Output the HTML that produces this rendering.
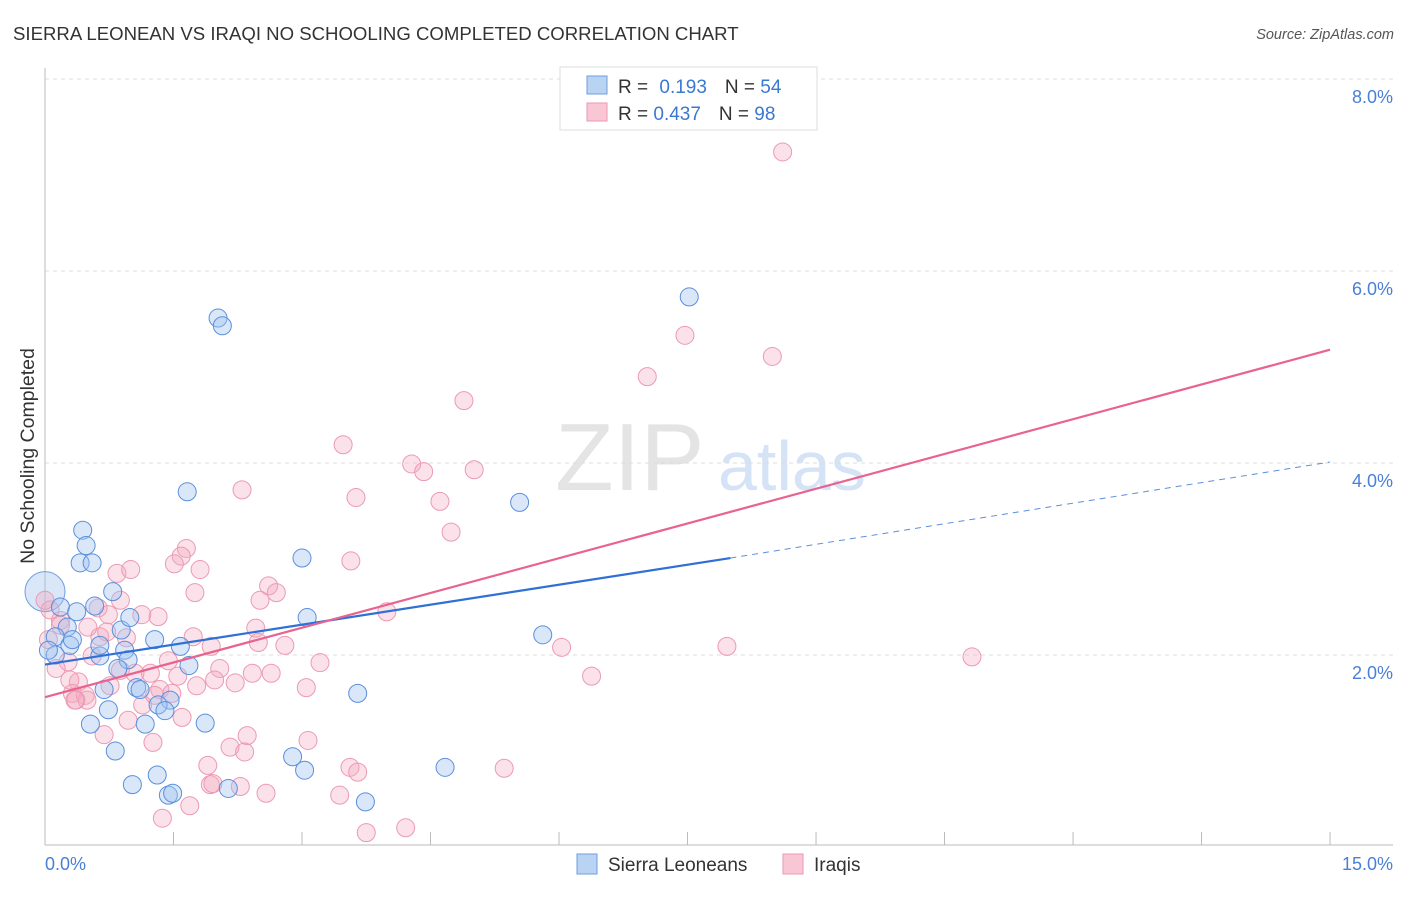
<!DOCTYPE html>
<html><head><meta charset="utf-8"><style>
body{margin:0;background:#fff;font-family:"Liberation Sans",sans-serif}
svg text{font-family:"Liberation Sans",sans-serif}
</style></head><body>
<svg id="chart" width="1406" height="892" viewBox="0 0 1406 892">
<text x="13" y="40" font-size="18.6" fill="#333">SIERRA LEONEAN VS IRAQI NO SCHOOLING COMPLETED CORRELATION CHART</text>
<text x="1394" y="39" font-size="14.5" fill="#555" font-style="italic" text-anchor="end">Source: ZipAtlas.com</text>
<g>
<text x="555" y="490" font-size="96" font-family="Liberation Serif,serif" fill="#e4e4e4">ZIP</text>
<text x="718" y="490" font-size="70" fill="#d4e3f5">atlas</text>
</g>
<g id="grid"></g>
<g id="axes"></g>
<g id="pts"></g>
<g id="lines"></g>
<text transform="translate(34,456) rotate(-90)" font-size="19.5" fill="#333" text-anchor="middle">No Schooling Completed</text>
<g>
<rect x="560" y="67" width="257" height="63" fill="#fff" stroke="#ddd"/>
<rect x="587" y="76" width="20" height="18" fill="#b9d3f3" stroke="#6f9ee0"/>
<rect x="587" y="103" width="20" height="18" fill="#f8c6d4" stroke="#ea9ab2"/>
<text x="618" y="93" font-size="19" fill="#333">R = <tspan fill="#3a78d4" dx="6">0.193</tspan><tspan dx="18" fill="#333">N = </tspan><tspan fill="#3a78d4">54</tspan></text>
<text x="618" y="120" font-size="19" fill="#333">R = <tspan fill="#3a78d4">0.437</tspan><tspan dx="18" fill="#333">N = </tspan><tspan fill="#3a78d4">98</tspan></text>
</g>
<g>
<rect x="577" y="854" width="20" height="20" fill="#b9d3f3" stroke="#6f9ee0"/>
<text x="608" y="871" font-size="19" fill="#333">Sierra Leoneans</text>
<rect x="783" y="854" width="20" height="20" fill="#f8c6d4" stroke="#ea9ab2"/>
<text x="814" y="871" font-size="19" fill="#333">Iraqis</text>
</g>
</svg>
<script>
const blueX=[2.02,2.07,7.52,1.66,5.54,0.44,0.48,0.41,0.55,3.00,0.79,0.18,0.37,0.58,0.89,0.26,0.12,0.29,1.28,1.58,3.06,5.81,0.93,0.64,0.97,1.68,0.85,0.12,0.69,1.07,1.11,1.46,1.32,1.40,0.74,0.53,1.17,1.87,3.65,0.82,2.89,3.03,4.67,1.31,1.02,1.44,1.49,2.14,3.74,0.64,0.32,0.04,0.99];
const blueY=[5.51,5.43,5.73,3.70,3.59,3.30,3.14,2.96,2.96,3.01,2.66,2.50,2.45,2.51,2.26,2.29,2.19,2.10,2.16,2.09,2.39,2.21,2.05,1.99,1.95,1.89,1.86,2.00,1.64,1.66,1.64,1.53,1.48,1.42,1.43,1.28,1.28,1.29,1.60,1.00,0.94,0.80,0.83,0.75,0.65,0.54,0.56,0.61,0.47,2.10,2.16,2.05,2.39];
const pinkX=[8.61,7.47,8.49,7.03,4.89,3.48,4.28,4.42,5.01,3.63,4.61,2.30,4.74,1.65,1.59,1.51,3.57,0.84,1.00,1.81,2.61,2.70,1.75,0.88,0.62,1.13,1.32,3.99,0.74,0.06,0.18,2.46,1.73,0.95,0.64,2.80,6.03,7.96,10.82,1.94,2.49,3.21,1.44,2.04,0.55,0.88,0.27,1.23,1.05,1.55,2.22,2.42,2.64,1.98,1.77,3.05,6.38,0.76,0.39,0.29,0.32,0.47,0.49,0.36,1.34,1.48,1.14,0.97,1.60,0.69,1.26,2.36,2.16,2.33,3.07,1.90,3.56,3.65,5.36,1.93,1.96,2.28,2.58,3.44,1.37,1.69,3.75,4.21,0,0.18,0.04,0.13,0.72,0.50,0.35,2.51,1.28];
const pinkY=[7.24,5.33,5.11,4.90,4.65,4.19,3.99,3.91,3.93,3.64,3.60,3.72,3.28,3.11,3.03,2.95,2.98,2.85,2.89,2.89,2.72,2.65,2.65,2.57,2.49,2.42,2.40,2.45,2.42,2.47,2.36,2.28,2.19,2.18,2.19,2.10,2.08,2.09,1.98,2.09,2.13,1.92,1.94,1.86,1.99,1.84,1.93,1.81,1.81,1.78,1.71,1.81,1.81,1.74,1.68,1.66,1.78,1.68,1.72,1.74,1.60,1.58,1.53,1.53,1.64,1.60,1.48,1.32,1.35,1.17,1.09,1.16,1.04,0.99,1.11,0.85,0.83,0.78,0.82,0.65,0.66,0.63,0.56,0.54,0.30,0.43,0.15,0.20,2.57,2.31,2.16,1.86,2.24,2.29,1.53,2.57,1.58];
const bigBlue=[0,2.66];
const blueTrend=[[0,1.90],[8.0,3.01],[15,4.01]];
const pinkTrend=[[0,1.56],[15,5.18]];
const yTicks=[2,4,6,8];
const xTicks=[0,1.5,3,4.5,6,7.5,9,10.5,12,13.5,15];
const NS='http://www.w3.org/2000/svg';
const sx=v=>45+v*85.67, sy=v=>847-v*96;
function mk(tag,attrs,parent){const e=document.createElementNS(NS,tag);for(const k in attrs)e.setAttribute(k,attrs[k]);parent.appendChild(e);return e;}
const grid=document.getElementById('grid'),axes=document.getElementById('axes'),pts=document.getElementById('pts'),lines=document.getElementById('lines');
yTicks.forEach(t=>{
 const l=mk('line',{x1:45,x2:1393,y1:sy(t),y2:sy(t),stroke:'#ddd','stroke-dasharray':'4,4'},grid);
 
 
 const tx=mk('text',{x:1393,y:sy(t)+24,'font-size':18,fill:'#4a7fd6','text-anchor':'end'},grid);
 tx.textContent=t.toFixed(1)+'%';
 
 
});
mk('line',{x1:45,x2:45,y1:68,y2:845,stroke:'#bbb'},axes);
mk('line',{x1:45,x2:1393,y1:845,y2:845,stroke:'#bbb'},axes);
xTicks.forEach(t=>{
 const l=mk('line',{x1:sx(t),x2:sx(t),y1:832,y2:845,stroke:'#bbb'},axes);
 
 
});
[[0,'start',45],[15,'end',1393]].forEach(([v,a,x])=>{
 const tx=mk('text',{x:x,y:870,'font-size':18,fill:'#4a7fd6','text-anchor':a},axes);
 tx.textContent=v.toFixed(1)+'%';
 
 
});
const bb=mk('circle',{cx:sx(bigBlue[0]),cy:sy(bigBlue[1]),r:20,fill:'rgba(160,195,240,0.4)',stroke:'#6f9ee0','stroke-width':1},pts);


pinkX.forEach((x,i)=>{
 const c=mk('circle',{cx:sx(x),cy:sy(pinkY[i]),r:9,fill:'rgba(244,170,192,0.35)',stroke:'#ec9ab3','stroke-width':1},pts);
 
 
});
blueX.forEach((x,i)=>{
 const c=mk('circle',{cx:sx(x),cy:sy(blueY[i]),r:9,fill:'rgba(160,195,240,0.4)',stroke:'#5b8fdc','stroke-width':1},pts);
 
 
});
const bl=mk('line',{x1:sx(blueTrend[0][0]),y1:sy(blueTrend[0][1]),x2:sx(blueTrend[1][0]),y2:sy(blueTrend[1][1]),stroke:'#2f6fd6','stroke-width':2.2},lines);


const bd=mk('line',{x1:sx(blueTrend[1][0]),y1:sy(blueTrend[1][1]),x2:sx(blueTrend[2][0]),y2:sy(blueTrend[2][1]),stroke:'#5b8fdc','stroke-width':1,'stroke-dasharray':'6,5'},lines);


const pl=mk('line',{x1:sx(pinkTrend[0][0]),y1:sy(pinkTrend[0][1]),x2:sx(pinkTrend[1][0]),y2:sy(pinkTrend[1][1]),stroke:'#e8638f','stroke-width':2.2},lines);


</script>
</body></html>
